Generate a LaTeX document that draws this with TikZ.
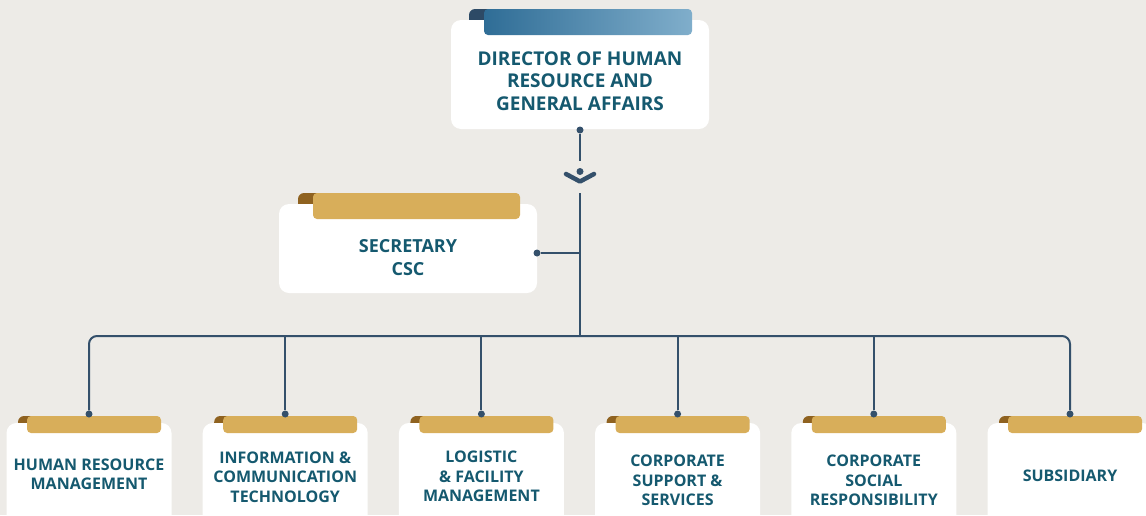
\documentclass[tikz,border=0pt]{standalone}
\usepackage{fontspec}
\setmainfont{Open Sans}
\definecolor{bg}{HTML}{EDEBE7}
\definecolor{gold}{HTML}{D8AE5A}
\definecolor{curl}{HTML}{8F6220}
\definecolor{txt}{HTML}{15596F}
\definecolor{ln}{HTML}{34506B}
\definecolor{bluea}{HTML}{2F6D96}
\definecolor{blueb}{HTML}{80AECB}
\definecolor{bluec}{HTML}{2D4A66}
\begin{document}
\begin{tikzpicture}[x=1pt,y=-1pt,
  card/.style={fill=white, rounded corners=10pt, inner sep=0pt},
  goldtab/.style={fill=gold, rounded corners=4pt},
  curltab/.style={fill=curl, rounded corners=6pt},
  lbl/.style={text=txt, font=\bfseries\fontsize{16}{19.5}\selectfont, align=center, inner sep=0pt},
  biglbl/.style={text=txt, font=\bfseries\fontsize{19}{22.5}\selectfont, align=center, inner sep=0pt},
  conn/.style={draw=ln, line width=2pt},
  dot/.style={circle, fill=ln, minimum size=7pt, inner sep=0pt}
]
\clip (0,0) rectangle (1146,515);
\fill[bg] (0,0) rectangle (1146,515);

% Director
\fill[bluec, rounded corners=6pt] (469,9) rectangle (495,32);
\node[card, minimum width=258pt, minimum height=109pt] (dir) at (580,74.5) {};
\shade[left color=bluea, right color=blueb, rounded corners=4pt] (484,9) rectangle (692,35);
\node[biglbl] (dirtext) at (580,81) {DIRECTOR OF HUMAN\\RESOURCE AND\\GENERAL AFFAIRS};

% Secretary
\fill[curl, rounded corners=6pt] (298,193) rectangle (322,212);
\node[card, minimum width=258pt, minimum height=89pt] (sec) at (408,248.5) {};
\fill[goldtab] (313,193) rectangle (520,219);
\node[biglbl, font=\bfseries\fontsize{18}{23}\selectfont] (sectext) at (408,257.5) {SECRETARY\\CSC};

% connectors top
\node[dot] (d0) at (580,130) {};
\coordinate (c0) at (580,161);
\node[dot] (dchev) at (580,171.5) {};
\coordinate (chl) at (566,174);
\coordinate (chm) at (580,181.5);
\coordinate (chr) at (594,174);
\coordinate (c1) at (580,193);
\coordinate (hub) at (580,336);
\coordinate (secj) at (580,253);
\node[dot] (dsec) at (537,253) {};
\draw[conn] (d0) -- (c0);
\draw[draw=ln, line width=4.5pt, line cap=round, line join=round] (chl) -- (chm) -- (chr);
\draw[conn] (c1) -- (hub);
\draw[conn] (dsec) -- (secj);

% bottom boxes
\foreach \i/\cx/\cy/\t in {
  1/89/474.5/{HUMAN RESOURCE\\MANAGEMENT},
  2/285.2/477/{INFORMATION \&\\COMMUNICATION\\TECHNOLOGY},
  3/481.4/476.5/{LOGISTIC\\\& FACILITY\\MANAGEMENT},
  4/677.6/480.5/{CORPORATE\\SUPPORT \&\\SERVICES},
  5/873.8/480.5/{CORPORATE\\SOCIAL\\RESPONSIBILITY},
  6/1070/476/{SUBSIDIARY}} {
  \fill[curltab] ({\cx-71},416) rectangle ({\cx-52},430);
  \node[card, minimum width=165pt, minimum height=120pt] (b\i) at (\cx,483) {};
  \fill[goldtab] ({\cx-62},416) rectangle ({\cx+72},433);
  \node[lbl] (t\i) at (\cx,\cy) {\t};
  \node[dot] (e\i) at (\cx,414) {};
}
\draw[conn, rounded corners=8pt] (e1) |- (hub) -| (e6);
\foreach \i in {2,3,4,5} { \draw[conn] (e\i) -- (e\i |- hub); }
\end{tikzpicture}
\end{document}
